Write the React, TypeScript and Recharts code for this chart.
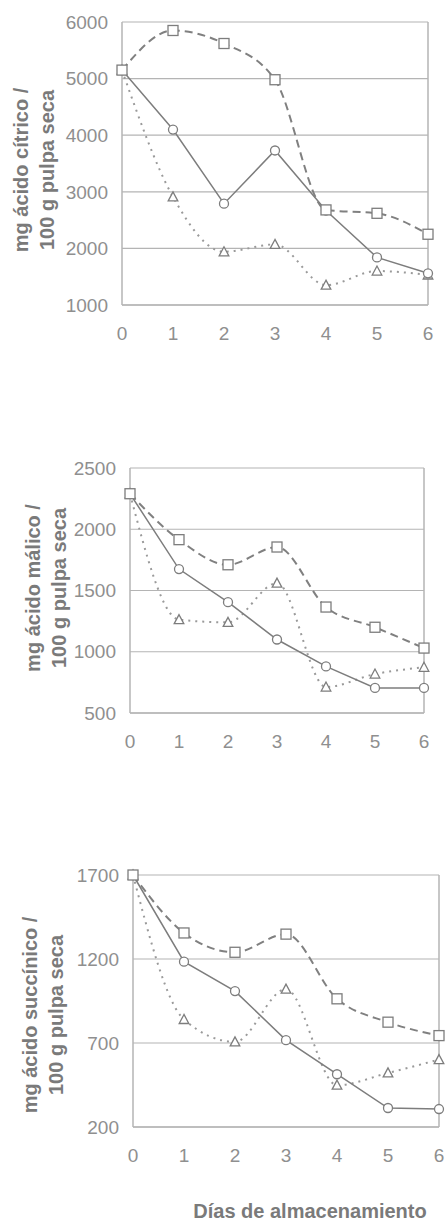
import React from 'react';
import { LineChart, Line, XAxis, YAxis, CartesianGrid, ReferenceLine } from 'recharts';

// Storage days on the x axis
const DAYS = [0, 1, 2, 3, 4, 5, 6];

// Citric acid (mg / 100 g dry pulp)
const citricSquare = [5150, 5850, 5620, 4980, 2680, 2620, 2250];
const citricCircle = [5150, 4100, 2790, 3730, 2670, 1840, 1560];
const citricTriangle = [5150, 2910, 1940, 2070, 1350, 1600, 1530];
const citricTicks = [1000, 2000, 3000, 4000, 5000, 6000];

// Malic acid (mg / 100 g dry pulp)
const malicSquare = [2290, 1915, 1710, 1855, 1365, 1200, 1030];
const malicCircle = [2290, 1675, 1405, 1100, 880, 705, 705];
const malicTriangle = [2290, 1262, 1240, 1560, 712, 818, 873];
const malicTicks = [500, 1000, 1500, 2000, 2500];

// Succinic acid (mg / 100 g dry pulp)
const succinicSquare = [1700, 1355, 1240, 1348, 963, 824, 744];
const succinicCircle = [1700, 1184, 1009, 717, 514, 313, 307];
const succinicTriangle = [1700, 840, 707, 1021, 449, 522, 601];
const succinicTicks = [200, 700, 1200, 1700];

const FONT = '"Liberation Sans", Arial, Helvetica, sans-serif';
const TICK_COLOR = '#8f8f8f';
const TITLE_COLOR = '#7a7a7a';
const GRID_COLOR = '#b4b4b4';
const MARK_COLOR = '#7d7d7d';

const buildRows = (sq: number[], ci: number[], tr: number[]) =>
  DAYS.map((day, i) => ({ day, square: sq[i], circle: ci[i], triangle: tr[i] }));

const SquareDot = (props: any) => {
  const { cx, cy, index } = props;
  if (cx == null || cy == null) return <g key={`s${index}`} />;
  return (
    <rect key={`s${index}`} x={cx - 5} y={cy - 5} width={10} height={10}
      fill="#fff" stroke={MARK_COLOR} strokeWidth={1.3} />
  );
};

const CircleDot = (props: any) => {
  const { cx, cy, index } = props;
  if (cx == null || cy == null) return <g key={`c${index}`} />;
  return <circle key={`c${index}`} cx={cx} cy={cy} r={4.5} fill="#fff" stroke={MARK_COLOR} strokeWidth={1.3} />;
};

const TriangleDot = (props: any) => {
  const { cx, cy, index } = props;
  if (cx == null || cy == null) return <g key={`t${index}`} />;
  const pts = `${cx},${cy - 5} ${cx - 4.8},${cy + 4} ${cx + 4.8},${cy + 4}`;
  return <polygon key={`t${index}`} points={pts} fill="#fff" stroke={MARK_COLOR} strokeWidth={1.3} />;
};

type AxisTitleProps = { cx: number; cy: number; lines: string[]; gap: number };

const AxisTitle = ({ cx, cy, lines, gap }: AxisTitleProps) => (
  <text
    transform={`rotate(-90, ${cx}, ${cy})`}
    textAnchor="middle"
    fontFamily={FONT}
    fontWeight="bold"
    fontSize={20}
    fill={TITLE_COLOR}
  >
    {lines.map((line, i) => (
      <tspan key={i} x={cx} y={cy + (i - (lines.length - 1) / 2) * gap} dominantBaseline="central">
        {line}
      </tspan>
    ))}
  </text>
);

type PanelProps = {
  top: number;
  height: number;
  marginTop: number;
  marginRight: number;
  yWidth: number;
  rows: any[];
  ticks: number[];
  title: string[];
  titleX: number;
  titleY: number;
};

const Panel = ({ top, height, marginTop, marginRight, yWidth, rows, ticks, title, titleX, titleY }: PanelProps) => (
  <div style={{ position: 'absolute', left: 0, top }}>
    <LineChart
      width={447}
      height={height}
      data={rows}
      margin={{ top: marginTop, right: marginRight, bottom: 0, left: 0 }}
    >
      <CartesianGrid vertical={false} stroke={GRID_COLOR} strokeWidth={1.2} />
      <XAxis
        dataKey="day"
        type="number"
        domain={[0, 6]}
        ticks={DAYS}
        height={40}
        tickSize={0}
        tickMargin={22}
        tickLine={false}
        axisLine={{ stroke: GRID_COLOR, strokeWidth: 1.5 }}
        tick={{ fill: TICK_COLOR, fontSize: 19, fontFamily: FONT }}
      />
      <YAxis
        type="number"
        domain={[ticks[0], ticks[ticks.length - 1]]}
        ticks={ticks}
        width={yWidth}
        interval={0}
        tickSize={0}
        tickMargin={14}
        tickLine={false}
        axisLine={{ stroke: GRID_COLOR, strokeWidth: 1.5 }}
        tick={{ fill: TICK_COLOR, fontSize: 19, fontFamily: FONT }}
        label={<AxisTitle cx={titleX} cy={titleY} lines={title} gap={26} />}
      />
      <ReferenceLine x={6} stroke={GRID_COLOR} strokeWidth={1.5} />
      <Line
        type="monotone"
        dataKey="triangle"
        stroke="#9a9a9a"
        strokeWidth={2}
        strokeDasharray="2 5"
        dot={TriangleDot}
        isAnimationActive={false}
      />
      <Line
        type="linear"
        dataKey="circle"
        stroke={MARK_COLOR}
        strokeWidth={1.5}
        dot={CircleDot}
        isAnimationActive={false}
      />
      <Line
        type="monotone"
        dataKey="square"
        stroke="#808080"
        strokeWidth={2}
        strokeDasharray="8 5"
        dot={SquareDot}
        isAnimationActive={false}
      />
    </LineChart>
  </div>
);

export default function App() {
  return (
    <div style={{ position: 'absolute', left: 0, top: 0, width: 447, height: 1223, background: '#fff', fontFamily: FONT, overflow: 'hidden' }}>
      <Panel
        top={0}
        height={345}
        marginTop={22}
        marginRight={19}
        yWidth={122}
        rows={buildRows(citricSquare, citricCircle, citricTriangle)}
        ticks={citricTicks}
        title={['mg ácido cítrico /', '100 g pulpa seca']}
        titleX={34}
        titleY={170}
      />
      <Panel
        top={440}
        height={313}
        marginTop={28}
        marginRight={23}
        yWidth={130}
        rows={buildRows(malicSquare, malicCircle, malicTriangle)}
        ticks={malicTicks}
        title={['mg ácido málico /', '100 g pulpa seca']}
        titleX={46}
        titleY={148}
      />
      <Panel
        top={840}
        height={327}
        marginTop={35}
        marginRight={8}
        yWidth={133}
        rows={buildRows(succinicSquare, succinicCircle, succinicTriangle)}
        ticks={succinicTicks}
        title={['mg ácido succínico /', '100 g pulpa seca']}
        titleX={43}
        titleY={175}
      />
      <div
        style={{
          position: 'absolute',
          left: 192,
          top: 1201,
          width: 236,
          textAlign: 'center',
          fontWeight: 'bold',
          fontSize: 20,
          color: TITLE_COLOR,
          whiteSpace: 'nowrap',
          lineHeight: '20px',
        }}
      >
        Días de almacenamiento
      </div>
    </div>
  );
}
